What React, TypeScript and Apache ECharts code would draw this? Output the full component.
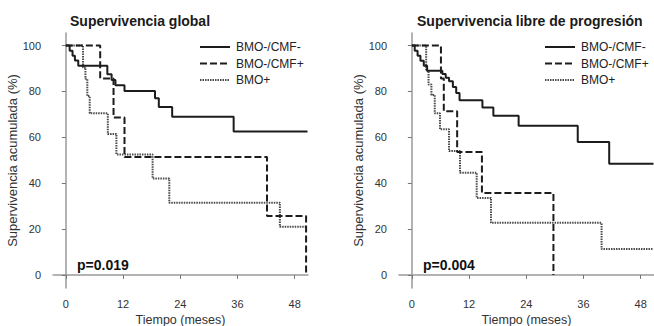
import React, { useEffect, useRef } from "react";
import * as echarts from "echarts";

const FONT = '"Liberation Sans", Arial, sans-serif';

const groupNames = ["BMO-/CMF-", "BMO-/CMF+", "BMO+"];
const panelTitles = ["Supervivencia global", "Supervivencia libre de progresión"];
const pValues = ["p=0.019", "p=0.004"];
const xTicks = [0, 12, 24, 36, 48];
const yTicks = [0, 20, 40, 60, 80, 100];

// Supervivencia global (months, % survival)
const osSolidT = [0, 0.8, 1.4, 1.9, 2.6, 8.7, 9.6, 10.4, 12.3, 18.7, 19.5, 22.3, 35.2, 50.7];
const osSolidS = [100, 97.8, 95.6, 93.5, 91.2, 87.5, 85, 82.7, 80.2, 77, 73.2, 69, 62.6, 62.6];
const osDashT = [0, 7.2, 10.0, 12.3, 42.2, 50.4];
const osDashS = [100, 85.7, 68.6, 51.4, 25.7, 0];
const osDotT = [0, 3.6, 4.1, 4.5, 5.0, 8.8, 10.6, 18.2, 21.7, 44.9, 50.4];
const osDotS = [100, 90.5, 85.5, 78, 70.5, 61.5, 52.5, 42, 31.5, 21, 21];

// Supervivencia libre de progresión
const pfsSolidT = [0, 0.6, 1.2, 1.8, 2.5, 3.2, 6.4, 7.1, 7.8, 8.6, 9.3, 10.0, 14.8, 17.1, 22.4, 34.8, 41.4, 50.7];
const pfsSolidS = [100, 97.8, 95.6, 93.4, 91.2, 89, 87.6, 86, 84.5, 82, 79.3, 76.2, 73, 69.4, 65, 58, 48.5, 48.5];
const pfsDashT = [0, 6.1, 6.7, 9.5, 14.7, 29.7];
const pfsDashS = [100, 85.7, 71.4, 53.6, 35.7, 0];
const pfsDotT = [0, 3.0, 3.5, 4.1, 4.8, 5.9, 7.8, 10.1, 13.6, 16.6, 39.8, 50.7];
const pfsDotS = [100, 89, 83, 78.5, 70.5, 63.5, 54, 44.6, 33.6, 22.7, 11.3, 11.3];

const zip = (t: number[], s: number[]) => t.map((x, i) => [x, s[i]]);

const panels = [
  [zip(osSolidT, osSolidS), zip(osDashT, osDashS), zip(osDotT, osDotS)],
  [zip(pfsSolidT, pfsSolidS), zip(pfsDashT, pfsDashS), zip(pfsDotT, pfsDotS)],
];

const lineStyles: any[] = [
  { color: "#1c1c1c", width: 2, type: "solid" },
  { color: "#1c1c1c", width: 2, type: [7, 3] },
  { color: "#4a4a4a", width: 2, type: [1.5, 1] },
];

export default function App() {
  const ref = useRef<HTMLDivElement>(null);
  useEffect(() => {
    if (!ref.current) return;
    const chart = echarts.init(ref.current, undefined, { renderer: "svg" });
    const gridLefts = [53, 399];
    const titleLefts = [65, 412];
    const legendLefts = [200, 545];
    const legendRows = [47, 63.5, 80];
    const pLefts = [77, 423];

    const xAxis: any[] = [];
    const yAxis: any[] = [];
    const series: any[] = [];
    const graphic: any[] = [];
    panels.forEach((panel, p) => {
      xAxis.push({
        type: "value",
        gridIndex: p,
        min: -2.7,
        max: 50.8,
        name: "Tiempo (meses)",
        nameLocation: "middle",
        nameGap: 21,
        nameTextStyle: { fontFamily: FONT, fontSize: 12.5, color: "#333" },
        axisLine: { show: true, lineStyle: { color: "#9a9a9a", width: 1.5 } },
        axisTick: { show: true, customValues: xTicks, length: 4, lineStyle: { color: "#777" } },
        axisLabel: { customValues: xTicks, fontFamily: FONT, fontSize: 11, color: "#333", margin: 10 },
        splitLine: { show: false },
      });
      yAxis.push({
        type: "value",
        gridIndex: p,
        min: -5.7,
        max: 105.5,
        name: "Supervivencia acumulada (%)",
        nameLocation: "middle",
        nameGap: 29,
        nameTextStyle: { fontFamily: FONT, fontSize: 13, color: "#333" },
        axisLine: { show: true, lineStyle: { color: "#9a9a9a", width: 1.5 } },
        axisTick: { show: true, customValues: yTicks, length: 4, lineStyle: { color: "#777" } },
        axisLabel: { customValues: yTicks, fontFamily: FONT, fontSize: 11, color: "#333", margin: 12 },
        splitLine: { show: false },
      });
      panel.forEach((data, k) => {
        series.push({
          type: "line",
          name: groupNames[k],
          xAxisIndex: p,
          yAxisIndex: p,
          data,
          step: "end",
          symbol: "none",
          showSymbol: false,
          lineStyle: lineStyles[k],
          itemStyle: { color: lineStyles[k].color },
          z: 3 - k,
        });
        const lx = legendLefts[p];
        const ly = legendRows[k];
        const ls = lineStyles[k];
        graphic.push({
          type: "line",
          shape: { x1: lx, y1: ly, x2: lx + 30, y2: ly },
          style: {
            stroke: ls.color,
            lineWidth: ls.width,
            lineDash: Array.isArray(ls.type) ? ls.type : null,
          },
        });
        graphic.push({
          type: "text",
          x: lx + 36,
          y: ly,
          style: {
            text: groupNames[k],
            fontFamily: FONT,
            fontSize: 12,
            fill: "#222",
            verticalAlign: "middle",
          },
        });
      });
      graphic.push({
        type: "text",
        x: pLefts[p],
        y: 265,
        style: {
          text: pValues[p],
          fontFamily: FONT,
          fontSize: 14,
          fontWeight: "bold",
          fill: "#111",
          verticalAlign: "middle",
        },
      });
    });

    chart.setOption({
      animation: false,
      backgroundColor: "#ffffff",
      title: panelTitles.map((t, i) => ({
        text: t,
        left: titleLefts[i],
        top: 9,
        textStyle: { fontFamily: FONT, fontSize: 14, fontWeight: "bold", color: "#1a1a1a" },
      })),
      grid: gridLefts.map((l) => ({
        left: l,
        top: 33,
        width: 255,
        height: 255,
        containLabel: false,
        outerBoundsMode: "none",
      })),
      xAxis,
      yAxis,
      series,
      graphic,
    });
    return () => chart.dispose();
  }, []);
  return (
    <div
      ref={ref}
      style={{ position: "fixed", left: 0, top: 0, width: 654, height: 326, background: "#fff" }}
    />
  );
}
